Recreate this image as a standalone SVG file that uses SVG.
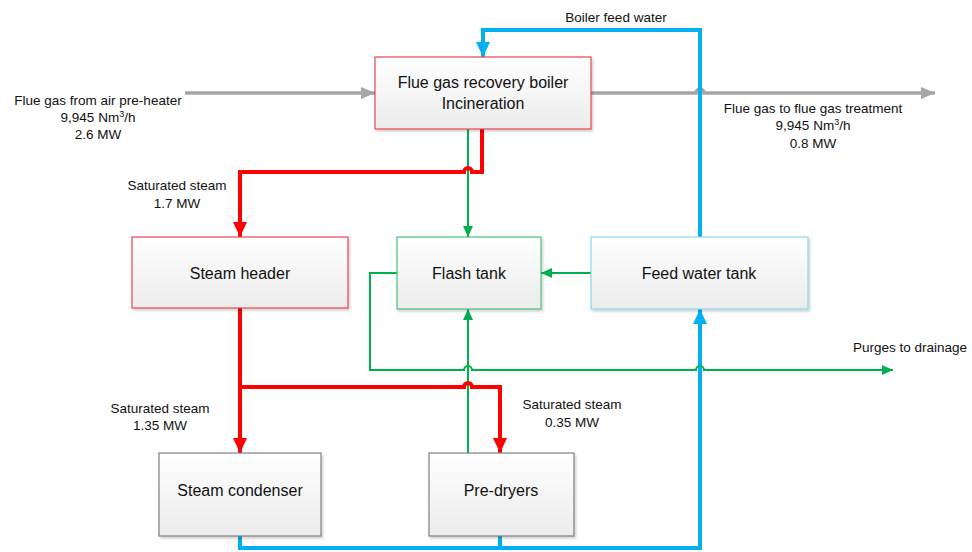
<svg xmlns="http://www.w3.org/2000/svg" width="972" height="552" viewBox="0 0 972 552">
<style>
text{font-family:"Liberation Sans",Arial,sans-serif;fill:#111;text-anchor:middle}
.lbl{font-size:13.5px}
.box{font-size:16px}
.sup{font-size:9px}
.red{stroke:#ff0000;stroke-width:4;fill:none}
.grn{stroke:#00b050;stroke-width:2;fill:none}
.blu{stroke:#00b0f0;stroke-width:4;fill:none}
.gry{stroke:#a6a6a6;stroke-width:3.5;fill:none}
rect.n{fill:url(#g);stroke-width:1.2;filter:url(#sh)}
</style>
<defs>
<linearGradient id="g" x1="0" y1="0" x2="0" y2="1"><stop offset="0" stop-color="#ffffff"/><stop offset="1" stop-color="#ececec"/></linearGradient>
<filter id="sh" x="-5%" y="-5%" width="115%" height="120%"><feDropShadow dx="1.5" dy="2" stdDeviation="0.8" flood-color="#000" flood-opacity="0.18"/></filter>
<marker id="ar" markerUnits="userSpaceOnUse" markerWidth="16" markerHeight="14" refX="15" refY="7" orient="auto"><path d="M0,0 L15,7 L0,14 z" fill="#ff0000"/></marker>
<marker id="ab" markerUnits="userSpaceOnUse" markerWidth="16" markerHeight="14" refX="15" refY="7" orient="auto"><path d="M0,0 L15,7 L0,14 z" fill="#00b0f0"/></marker>
<marker id="ag" markerUnits="userSpaceOnUse" markerWidth="11" markerHeight="10" refX="11" refY="5" orient="auto"><path d="M0,0 L11,5 L0,10 z" fill="#00b050"/></marker>
<marker id="ay" markerUnits="userSpaceOnUse" markerWidth="14" markerHeight="12" refX="14" refY="6" orient="auto"><path d="M0,0 L14,6 L0,12 z" fill="#a6a6a6"/></marker>
</defs>

<g id="connectors">
<path class="gry" d="M185,93 H375" marker-end="url(#ay)"/>
<path class="gry" d="M591,93 H696 a4,4 0 0 1 8,0 H935" marker-end="url(#ay)"/>
<path class="blu" d="M700,237 V30 H483 V57" marker-end="url(#ab)"/>
<path class="blu" d="M240,536 V548 H700 V309" marker-end="url(#ab)"/>
<path class="blu" d="M500,536 V548"/>
<path class="grn" d="M468,129 V237" marker-end="url(#ag)"/>
<path class="grn" d="M591,273 H541" marker-end="url(#ag)"/>
<path class="grn" d="M468,453 V309" marker-end="url(#ag)"/>
<path class="grn" d="M397,273 H370 V370 H464 a4,4 0 0 1 8,0 H696 a4,4 0 0 1 8,0 H893" marker-end="url(#ag)"/>
<path class="red" d="M482,129 V172 H472 a4,4 0 0 0 -8,0 H240 V237" marker-end="url(#ar)"/>
<path class="red" d="M240,308 V453" marker-end="url(#ar)"/>
<path class="red" d="M240,387 H464 a4,4 0 0 1 8,0 H500 V453" marker-end="url(#ar)"/>
</g>

<g id="boiler">
<rect class="n" x="375" y="57" width="216" height="72" stroke="#e8474f"/>
<text class="box" x="483" y="88">Flue gas recovery boiler</text>
<text class="box" x="483" y="109">Incineration</text>
</g>
<g id="steam-header">
<rect class="n" x="132" y="237" width="216" height="71" stroke="#e8474f"/>
<text class="box" x="240" y="279">Steam header</text>
</g>
<g id="flash-tank">
<rect class="n" x="397" y="237" width="144" height="72" stroke="#4cc07a"/>
<text class="box" x="469" y="279">Flash tank</text>
</g>
<g id="feed-water-tank">
<rect class="n" x="591" y="237" width="217" height="72" stroke="#8ad8f2"/>
<text class="box" x="699" y="279">Feed water tank</text>
</g>
<g id="steam-condenser">
<rect class="n" x="159" y="453" width="162" height="83" stroke="#7f7f7f"/>
<text class="box" x="240" y="496">Steam condenser</text>
</g>
<g id="pre-dryers">
<rect class="n" x="429" y="453" width="145" height="83" stroke="#7f7f7f"/>
<text class="box" x="501" y="496">Pre-dryers</text>
</g>

<g id="labels">
<text class="lbl" x="616" y="22">Boiler feed water</text>
<text class="lbl" x="98" y="105">Flue gas from air pre-heater</text>
<text class="lbl" x="98" y="122">9,945 Nm<tspan class="sup" dy="-5">3</tspan><tspan dy="5">/h</tspan></text>
<text class="lbl" x="98" y="139">2.6 MW</text>
<text class="lbl" x="813" y="113">Flue gas to flue gas treatment</text>
<text class="lbl" x="813" y="130">9,945 Nm<tspan class="sup" dy="-5">3</tspan><tspan dy="5">/h</tspan></text>
<text class="lbl" x="813" y="148">0.8 MW</text>
<text class="lbl" x="177" y="190">Saturated steam</text>
<text class="lbl" x="177" y="208">1.7 MW</text>
<text class="lbl" x="160" y="413">Saturated steam</text>
<text class="lbl" x="160" y="430">1.35 MW</text>
<text class="lbl" x="572" y="409">Saturated steam</text>
<text class="lbl" x="572" y="427">0.35 MW</text>
<text class="lbl" x="910" y="352">Purges to drainage</text>
</g>
</svg>
